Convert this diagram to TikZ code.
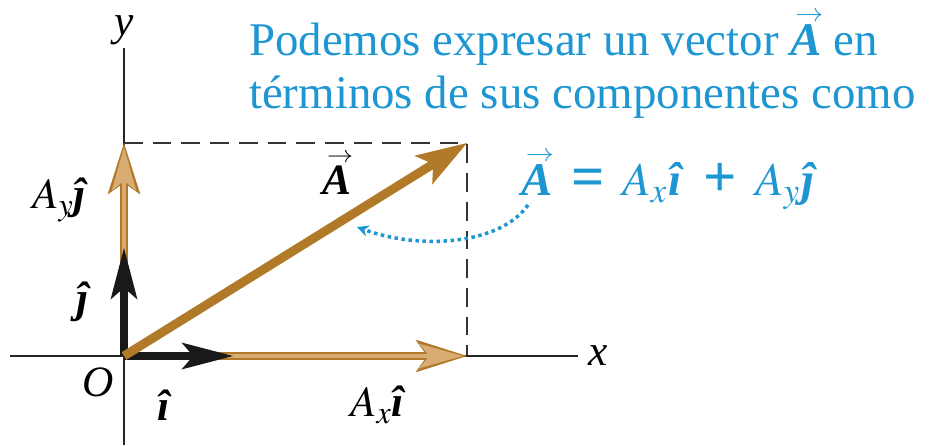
\documentclass[tikz,border=0pt]{standalone}
\usepackage{amsmath}
\usepackage{mathptmx}
\usepackage{fontspec}
\setmainfont{Liberation Serif}
\usepackage{tikz}
\usetikzlibrary{arrows.meta}

\definecolor{vecbrown}{RGB}{176,122,40}
\definecolor{vectan}{RGB}{216,172,114}
\definecolor{txtblue}{RGB}{30,150,210}

\newcommand{\bfit}[1]{\textbf{\textit{#1}}}
\newcommand{\vA}{\ooalign{\bfit{A}\cr\hidewidth\kern0.14em\raisebox{0.72em}{\scalebox{0.6}[0.55]{$\rightarrow$}}\hidewidth\cr}}
\newcommand{\bigop}[1]{\raisebox{-0.04em}{\scalebox{1.25}{\textbf{#1}}}}

\begin{document}
\begin{tikzpicture}[x=0.03cm, y=-0.03cm,
  lbl/.style={font=\fontsize{37}{42}\selectfont},
  bluetext/.style={text=txtblue, font=\fontsize{40}{46}\selectfont},
  axisline/.style={line width=1.3pt, black!85},
  guide/.style={line width=1.3pt, black!80, dash pattern=on 16pt off 8.5pt},
  tanout/.style={vecbrown, line width=6pt, -{Stealth[length=44pt, width=28pt, inset=10pt, line width=0pt]}},
  tanin/.style={vectan, line width=3pt, shorten >=3.8pt, -{Stealth[length=37pt, width=21pt, inset=8.5pt, line width=0pt]}},
  unitvec/.style={black!90, line width=6.8pt, -{Stealth[length=44pt, width=23pt, inset=10pt, line width=0pt]}},
  mainvec/.style={vecbrown, line width=7.6pt, -{Stealth[length=44pt, width=29pt, inset=10pt, line width=0pt]}},
  hint/.style={txtblue, line width=3pt, dash pattern=on 3pt off 3pt, -{Stealth[length=10pt, width=10pt, line width=0pt]}}
]
  \useasboundingbox (0,0) rectangle (934,445);

  % points of the construction
  \coordinate (O) at (124,356);
  \coordinate (Ax) at (467,356);
  \coordinate (Ay) at (124,143);
  \coordinate (P) at (467,143);
  \coordinate (itip) at (233,356);
  \coordinate (jtip) at (124,248);
  \coordinate (xend) at (578,356);
  \coordinate (xbeg) at (10,356);
  \coordinate (yend) at (124,48);
  \coordinate (ybeg) at (124,445);

  % axes and guide lines
  \draw[axisline] (xbeg) -- (xend);
  \draw[axisline] (ybeg) -- (yend);
  \draw[guide] (Ay) -- (P) -- (Ax);

  % components
  \draw[tanout] (O) -- (Ax);
  \draw[tanin] (O) -- (Ax);
  \draw[tanout] (O) -- (Ay);
  \draw[tanin] (O) -- (Ay);
  \draw[unitvec] (O) -- (itip);
  \draw[unitvec] (O) -- (jtip);
  \draw[mainvec] (O) -- (P);

  % labels
  \node[lbl] (ylab) at (124,30) {\textit{y}};
  \node[lbl] (xlab) at (598,356) {\textit{x}};
  \node[lbl] (olab) at (98,382) {\textit{O}};
  \node[lbl] (ilab) at (165,405) {\bfit{î}};
  \node[lbl] (axlab) at (378,405) {$A_x$\bfit{î}};
  \node[lbl] (aylab) at (60,200) {$A_y$\bfit{ĵ}};
  \node[lbl] (jlab) at (84,302) {\bfit{ĵ}};
  \node[lbl, anchor=base] (alab) at (337,194) {\vA};

  % blue text
  \node[bluetext, anchor=base west] (title1) at (245,55) {Podemos expresar un vector \vA{} en};
  \node[bluetext, anchor=base west] (title2) at (245,108) {términos de sus componentes como};
  \node[bluetext, anchor=base west] (eq) at (517,195) {\vA\kern0.4em\bigop{=}\kern0.38em$A_x$\kern0.04em\bfit{î}\kern0.4em\bigop{+}\kern0.4em$A_y$\kern0.04em\bfit{ĵ}};

  \coordinate (hs) at (528,205);
  \coordinate (he) at (357,227);
  \draw[hint] (hs) .. controls (500,245) and (420,250) .. (he);
\end{tikzpicture}
\end{document}
